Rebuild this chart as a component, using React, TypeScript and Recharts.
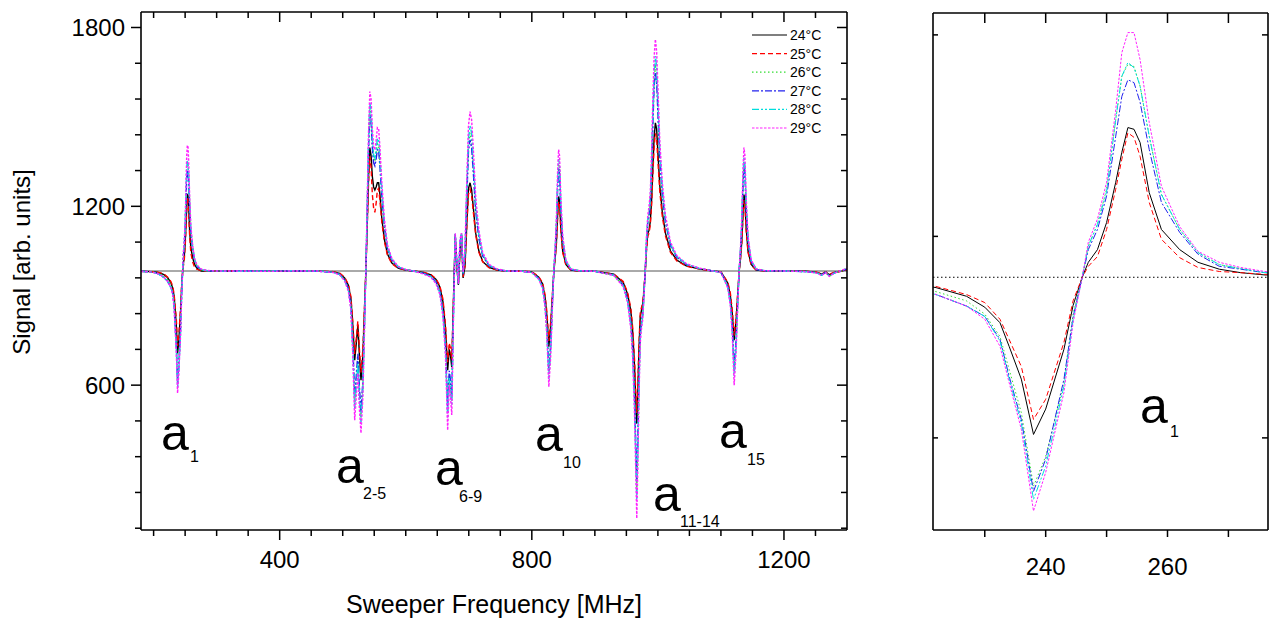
import React from 'react';
import { LineChart, Line, XAxis, YAxis, ReferenceLine } from 'recharts';

const FONT = '"Liberation Sans", Arial, Helvetica, sans-serif';

// sweeper frequency [MHz], dense around every resonance
const freq = [
  180, 195, 205, 212, 217, 222, 227, 230, 232.5, 234, 236, 238, 240, 243, 244.5, 246, 247, 248.5, 250, 251.5, 252.5, 253.5, 254.5, 255.5, 257, 259, 262, 265, 268.5, 272, 276, 285,
  300, 340, 380, 420, 460, 485,
  495, 503, 509, 513, 516, 519, 521.5, 524, 526.5, 529, 532, 535, 537, 539, 541, 543, 545, 547, 549, 551, 553, 555, 557, 559, 562, 566, 571, 578, 588, 600,
  612, 628,
  640, 648, 654, 659, 663, 666.5, 669, 671, 673, 675.5, 678.5, 681, 683.5, 686, 688.5, 691, 694, 697, 699.5, 702, 704.5, 707, 711, 716, 722, 732, 745,
  760, 785,
  800, 811, 817, 821, 824, 827, 830, 833, 835, 837, 839, 841, 842.5, 844, 846, 849, 854, 862, 875,
  900, 930, 945, 952, 957, 960, 963, 965, 966.5, 968, 970, 972, 974, 976, 978, 980, 982, 984, 986, 988, 990, 992, 994, 996, 998, 1000, 1003, 1007, 1012, 1020, 1030, 1045, 1065,
  1085,
  1100, 1105, 1111, 1115, 1118, 1121, 1124, 1127, 1129, 1131, 1133, 1135, 1136.5, 1138, 1140, 1143, 1148, 1156, 1170,
  1200, 1235, 1252, 1260, 1266, 1272, 1280, 1290, 1300,
];

const t24 = [
  982, 981, 979, 975, 970, 961, 946, 927, 900, 859, 802, 706, 750, 854, 930, 979, 1005, 1027, 1074, 1144, 1196, 1239, 1236, 1213, 1126, 1062, 1027, 1005, 993, 987, 983, 983,
  983, 982, 983, 984, 983, 980,
  975, 960, 935, 890, 800, 684, 740, 802, 700, 617, 700, 880, 1000, 1150, 1300, 1397, 1370, 1300, 1265, 1255, 1265, 1279, 1279, 1240, 1160, 1090, 1040, 1010, 993, 986,
  983, 978,
  970, 955, 930, 880, 790, 650, 720, 700, 660, 870, 1100, 1000, 936, 1050, 1104, 960, 1000, 1150, 1260, 1279, 1255, 1200, 1110, 1050, 1015, 995, 986,
  983, 982,
  980, 962, 940, 895, 830, 729, 800, 910, 983, 1025, 1080, 1175, 1233, 1220, 1130, 1050, 1005, 986, 983,
  982, 972, 945, 905, 850, 780, 660, 540, 471, 560, 720, 830, 852, 870, 920, 983, 1060, 1110, 1120, 1150, 1220, 1330, 1430, 1480, 1460, 1380, 1270, 1180, 1110, 1050, 1020, 1000, 990,
  984,
  980, 963, 942, 900, 840, 751, 815, 915, 983, 1025, 1080, 1175, 1239, 1222, 1130, 1050, 1005, 986, 983,
  983, 982, 978, 972, 980, 970, 978, 982, 988,
];

const t25 = [
  982, 981, 980, 976, 972, 963, 949, 935, 906, 871, 824, 732, 767, 866, 938, 979, 998, 1015, 1062, 1132, 1184, 1230, 1222, 1189, 1109, 1045, 1013, 996, 989, 987, 984, 983,
  983, 983, 982, 984, 982, 981,
  976, 962, 938, 897, 813, 705, 757, 815, 720, 643, 720, 887, 999, 1138, 1278, 1368, 1330, 1240, 1195, 1180, 1210, 1255, 1260, 1220, 1148, 1083, 1036, 1008, 992, 986,
  983, 979,
  971, 957, 934, 889, 804, 677, 742, 723, 686, 876, 1085, 1001, 940, 1046, 1096, 963, 1000, 1138, 1240, 1258, 1236, 1186, 1103, 1046, 1014, 994, 986,
  983, 982,
  981, 964, 944, 904, 843, 748, 814, 917, 983, 1022, 1073, 1162, 1216, 1204, 1120, 1045, 1003, 986, 983,
  982, 973, 948, 910, 859, 794, 683, 571, 507, 590, 738, 841, 861, 878, 924, 983, 1055, 1101, 1110, 1138, 1203, 1306, 1399, 1445, 1427, 1352, 1250, 1166, 1101, 1045, 1017, 999, 990,
  984,
  981, 964, 945, 908, 852, 767, 826, 921, 983, 1022, 1073, 1162, 1221, 1205, 1120, 1045, 1003, 986, 983,
  983, 982, 979, 973, 980, 972, 979, 982, 987,
];

const t26 = [
  982, 980, 977, 970, 963, 954, 938, 915, 876, 819, 744, 616, 668, 796, 915, 979, 1033, 1071, 1132, 1253, 1328, 1349, 1345, 1311, 1224, 1123, 1062, 1022, 1001, 994, 987, 984,
  983, 982, 984, 983, 983, 979,
  972, 953, 921, 862, 730, 543, 614, 689, 574, 492, 602, 838, 1007, 1206, 1405, 1529, 1503, 1412, 1360, 1350, 1374, 1409, 1406, 1352, 1244, 1139, 1061, 1021, 997, 987,
  983, 975,
  964, 945, 913, 845, 727, 509, 636, 602, 548, 821, 1107, 1014, 939, 1078, 1108, 974, 1042, 1255, 1407, 1446, 1420, 1340, 1194, 1099, 1036, 1002, 989,
  983, 982,
  979, 957, 930, 870, 781, 634, 730, 889, 988, 1050, 1136, 1276, 1343, 1325, 1200, 1085, 1015, 989, 984,
  982, 969, 935, 884, 808, 717, 548, 372, 248, 385, 608, 767, 809, 835, 906, 988, 1088, 1152, 1176, 1220, 1332, 1491, 1619, 1676, 1642, 1534, 1375, 1250, 1152, 1071, 1030, 1006, 992,
  984,
  979, 957, 930, 876, 791, 645, 741, 894, 988, 1050, 1136, 1278, 1350, 1327, 1201, 1085, 1015, 989, 984,
  983, 981, 977, 969, 979, 966, 977, 983, 991,
];

const t27 = [
  982, 980, 976, 968, 960, 949, 929, 911, 871, 807, 732, 607, 663, 802, 910, 979, 1027, 1062, 1120, 1224, 1293, 1322, 1317, 1283, 1201, 1109, 1057, 1019, 998, 993, 987, 984,
  982, 983, 983, 983, 982, 979,
  972, 954, 923, 866, 740, 563, 632, 705, 592, 510, 616, 844, 1006, 1198, 1390, 1510, 1484, 1396, 1346, 1336, 1358, 1390, 1388, 1336, 1232, 1132, 1058, 1019, 996, 987,
  983, 976,
  965, 946, 915, 850, 736, 529, 648, 616, 564, 828, 1106, 1012, 938, 1074, 1108, 972, 1036, 1240, 1386, 1423, 1396, 1320, 1182, 1092, 1033, 1001, 988,
  983, 982,
  979, 958, 931, 874, 788, 648, 740, 892, 987, 1046, 1128, 1261, 1327, 1310, 1190, 1080, 1014, 988, 984,
  982, 970, 936, 887, 814, 726, 564, 396, 280, 410, 624, 776, 815, 840, 908, 987, 1084, 1146, 1168, 1210, 1316, 1474, 1600, 1648, 1620, 1512, 1360, 1240, 1146, 1068, 1029, 1005, 992,
  984,
  979, 958, 932, 879, 798, 660, 752, 897, 987, 1046, 1128, 1263, 1334, 1312, 1191, 1080, 1014, 988, 984,
  983, 981, 977, 970, 979, 967, 977, 983, 990,
];

const t28 = [
  982, 980, 976, 968, 960, 949, 929, 911, 868, 803, 725, 593, 651, 790, 905, 979, 1033, 1071, 1128, 1253, 1328, 1352, 1343, 1311, 1224, 1123, 1062, 1022, 1001, 994, 987, 984,
  983, 982, 983, 984, 983, 979,
  971, 952, 919, 858, 720, 522, 596, 672, 556, 475, 588, 832, 1008, 1214, 1420, 1547, 1522, 1428, 1373, 1363, 1389, 1427, 1424, 1368, 1256, 1146, 1064, 1022, 997, 988,
  983, 975,
  964, 943, 910, 840, 718, 489, 624, 588, 532, 814, 1108, 1016, 939, 1082, 1109, 976, 1048, 1270, 1428, 1470, 1446, 1360, 1206, 1106, 1039, 1003, 989,
  983, 982,
  978, 956, 928, 867, 774, 621, 720, 886, 989, 1053, 1144, 1291, 1358, 1340, 1210, 1090, 1017, 989, 984,
  982, 969, 933, 881, 802, 708, 532, 348, 216, 360, 592, 758, 802, 830, 904, 989, 1092, 1158, 1184, 1230, 1348, 1514, 1646, 1704, 1668, 1556, 1390, 1260, 1158, 1074, 1032, 1006, 992,
  984,
  978, 957, 928, 872, 784, 630, 731, 891, 989, 1053, 1144, 1293, 1365, 1342, 1212, 1090, 1017, 989, 984,
  983, 981, 977, 969, 978, 966, 976, 984, 991,
];

const t29 = [
  982, 980, 976, 968, 960, 949, 929, 906, 859, 796, 715, 573, 640, 779, 900, 979, 1040, 1080, 1144, 1270, 1369, 1404, 1404, 1357, 1248, 1137, 1067, 1024, 1005, 996, 989, 985,
  983, 983, 982, 983, 983, 978,
  970, 950, 915, 850, 700, 482, 560, 640, 520, 439, 560, 820, 1010, 1230, 1450, 1585, 1560, 1460, 1400, 1390, 1420, 1464, 1460, 1400, 1280, 1160, 1070, 1025, 998, 988,
  983, 973,
  962, 940, 905, 830, 700, 449, 600, 560, 500, 800, 1110, 1020, 940, 1090, 1110, 980, 1060, 1300, 1470, 1518, 1490, 1400, 1230, 1120, 1045, 1005, 990,
  983, 982,
  978, 955, 925, 860, 760, 594, 700, 880, 990, 1060, 1160, 1320, 1390, 1370, 1230, 1100, 1020, 990, 984,
  982, 968, 930, 875, 790, 690, 500, 300, 153, 310, 560, 740, 790, 820, 900, 990, 1100, 1170, 1200, 1250, 1380, 1560, 1700, 1760, 1720, 1600, 1420, 1280, 1170, 1080, 1035, 1008, 993,
  984,
  978, 955, 925, 865, 770, 600, 710, 885, 990, 1060, 1160, 1322, 1397, 1372, 1232, 1100, 1020, 990, 984,
  983, 981, 976, 968, 978, 965, 976, 984, 992,
];

const mainXTicks = [200, 250, 300, 350, 400, 450, 500, 550, 600, 650, 700, 750, 800, 850, 900, 950, 1000, 1050, 1100, 1150, 1200, 1250];
const mainXMajor = [400, 800, 1200];
const mainYTicks = [120, 240, 360, 480, 600, 720, 840, 960, 1080, 1200, 1320, 1440, 1560, 1680, 1800];
const mainYMajor = [600, 1200, 1800];
const insetXTicks = [230, 240, 250, 260, 270];
const insetXLabels = [240, 260];
const insetYTicks = [700, 1050, 1400];

const series = [
  { key: 't24', label: '24°C', color: '#000000', dash: undefined as string | undefined },
  { key: 't25', label: '25°C', color: '#ff0000', dash: '5 3' },
  { key: 't26', label: '26°C', color: '#33dd33', dash: '1.5 2.5' },
  { key: 't27', label: '27°C', color: '#2222ee', dash: '7 2 2 2' },
  { key: 't28', label: '28°C', color: '#00dddd', dash: '7 2 2 2 2 2' },
  { key: 't29', label: '29°C', color: '#ff22ff', dash: '2.5 1.5' },
];

const rows = freq.map((f, i) => ({ f, t24: t24[i], t25: t25[i], t26: t26[i], t27: t27[i], t28: t28[i], t29: t29[i] }));

type TickOpts = {
  dx: number;
  dy: number;
  majors: number[];
  majorLen: number;
  minorLen: number;
  labels?: number[];
  lx?: number;
  ly?: number;
  anchor?: 'start' | 'middle' | 'end';
};

const tickMark = (o: TickOpts) => (props: any) => {
  const { x, y, payload } = props;
  const v = payload.value;
  const len = o.majors.includes(v) ? o.majorLen : o.minorLen;
  const show = o.labels ? o.labels.includes(v) : false;
  return (
    <g>
      <line x1={x} y1={y} x2={x + o.dx * len} y2={y + o.dy * len} stroke="#000" strokeWidth={1.5} />
      {show && (
        <text x={x + (o.lx || 0)} y={y + (o.ly || 0)} textAnchor={o.anchor || 'middle'} fontSize={24} fontFamily={FONT} fill="#000">
          {v}
        </text>
      )}
    </g>
  );
};

const axisLine = { stroke: '#000', strokeWidth: 1.6 };

const Sub = ({ x, y, main, sub, subDx, subDy }: { x: number; y: number; main: string; sub: string; subDx: number; subDy: number }) => (
  <g fontFamily={FONT} fill="#000">
    <text x={x} y={y} fontSize={50}>{main}</text>
    <text x={x + subDx} y={y + subDy} fontSize={16}>{sub}</text>
  </g>
);

const legendRows = [35, 53.6, 72.2, 90.8, 109.4, 128];

export default function App() {
  return (
    <div style={{ position: 'fixed', left: 0, top: 0, width: 1274, height: 619, background: '#fff', fontFamily: FONT }}>
      <div style={{ position: 'absolute', left: 0, top: 0 }}>
        <LineChart width={860} height={619} data={rows} margin={{ top: 11, right: 12, bottom: 0, left: 0 }}>
          <XAxis
            xAxisId="b" dataKey="f" type="number" domain={[180, 1300]} allowDataOverflow ticks={mainXTicks} interval={0}
            height={89} tickLine={false} tickSize={0} tickMargin={0} axisLine={axisLine}
            tick={tickMark({ dx: 0, dy: 1, majors: mainXMajor, majorLen: 10, minorLen: 6, labels: mainXMajor, ly: 38 })}
          />
          <XAxis
            xAxisId="t" orientation="top" dataKey="f" type="number" domain={[180, 1300]} allowDataOverflow ticks={mainXTicks} interval={0}
            height={1} tickLine={false} tickSize={0} tickMargin={0} axisLine={axisLine}
            tick={tickMark({ dx: 0, dy: 1, majors: mainXMajor, majorLen: 10, minorLen: 6 })}
          />
          <YAxis
            yAxisId="l" type="number" domain={[114, 1852]} allowDataOverflow ticks={mainYTicks} interval={0}
            width={141} tickLine={false} tickSize={0} tickMargin={0} axisLine={axisLine}
            tick={tickMark({ dx: -1, dy: 0, majors: mainYMajor, majorLen: 10, minorLen: 6, labels: mainYMajor, lx: -16, ly: 8.5, anchor: 'end' })}
          />
          <YAxis
            yAxisId="r" orientation="right" type="number" domain={[114, 1852]} allowDataOverflow ticks={mainYTicks} interval={0}
            width={1} tickLine={false} tickSize={0} tickMargin={0} axisLine={axisLine}
            tick={tickMark({ dx: -1, dy: 0, majors: mainYMajor, majorLen: 10, minorLen: 6 })}
          />
          <ReferenceLine xAxisId="b" yAxisId="l" y={983} stroke="#555" strokeWidth={1} />
          {series.map((s) => (
            <Line
              key={s.key} xAxisId="b" yAxisId="l" dataKey={s.key} type="linear" stroke={s.color}
              strokeDasharray={s.dash} strokeWidth={1.4} dot={false} isAnimationActive={false}
            />
          ))}
          <Line xAxisId="t" yAxisId="r" dataKey="t24" stroke="none" strokeWidth={0} dot={false} legendType="none" isAnimationActive={false} />
        </LineChart>
      </div>

      <div style={{ position: 'absolute', left: 860, top: 0 }}>
        <LineChart width={414} height={619} data={rows} margin={{ top: 12, right: 5, bottom: 0, left: 72 }}>
          <XAxis
            xAxisId="b" dataKey="f" type="number" domain={[221.5, 276.5]} allowDataOverflow ticks={insetXTicks} interval={0}
            height={89} tickLine={false} tickSize={0} tickMargin={0} axisLine={axisLine}
            tick={tickMark({ dx: 0, dy: 1, majors: insetXTicks, majorLen: 7, minorLen: 7, labels: insetXLabels, ly: 45 })}
          />
          <XAxis
            xAxisId="t" orientation="top" dataKey="f" type="number" domain={[221.5, 276.5]} allowDataOverflow ticks={insetXTicks} interval={0}
            height={1} tickLine={false} tickSize={0} tickMargin={0} axisLine={axisLine}
            tick={tickMark({ dx: 0, dy: 1, majors: insetXTicks, majorLen: 10, minorLen: 10 })}
          />
          <YAxis
            yAxisId="l" type="number" domain={[540, 1438]} allowDataOverflow ticks={insetYTicks} interval={0}
            width={1} tickLine={false} tickSize={0} tickMargin={0} axisLine={axisLine}
            tick={tickMark({ dx: 1, dy: 0, majors: insetYTicks, majorLen: 5, minorLen: 5 })}
          />
          <YAxis
            yAxisId="r" orientation="right" type="number" domain={[540, 1438]} allowDataOverflow ticks={insetYTicks} interval={0}
            width={1} tickLine={false} tickSize={0} tickMargin={0} axisLine={axisLine}
            tick={tickMark({ dx: -1, dy: 0, majors: insetYTicks, majorLen: 6, minorLen: 6 })}
          />
          <ReferenceLine xAxisId="b" yAxisId="l" y={979} stroke="#000" strokeWidth={1} strokeDasharray="1.5 2.5" />
          {series.map((s) => (
            <Line
              key={s.key} xAxisId="b" yAxisId="l" dataKey={s.key} type="linear" stroke={s.color}
              strokeDasharray={s.dash} strokeWidth={1} dot={false} isAnimationActive={false}
            />
          ))}
          <Line xAxisId="t" yAxisId="r" dataKey="t24" stroke="none" strokeWidth={0} dot={false} legendType="none" isAnimationActive={false} />
        </LineChart>
      </div>

      <svg width={1274} height={619} style={{ position: 'absolute', left: 0, top: 0, pointerEvents: 'none' }}>
        <text x={30} y={262} transform="rotate(-90 30 262)" textAnchor="middle" fontSize={24} fontFamily={FONT} fill="#000">
          Signal [arb. units]
        </text>
        <text x={494} y={613} textAnchor="middle" fontSize={25} fontFamily={FONT} fill="#000">
          Sweeper Frequency [MHz]
        </text>

        {series.map((s, i) => (
          <g key={s.key}>
            <line x1={752} x2={787} y1={legendRows[i]} y2={legendRows[i]} stroke={s.color} strokeWidth={1.2} strokeDasharray={s.dash} />
            <text x={790} y={legendRows[i] + 5} fontSize={14} fontFamily={FONT} fill="#000">{s.label}</text>
          </g>
        ))}

        <Sub x={161} y={450} main="a" sub="1" subDx={29} subDy={12} />
        <Sub x={336} y={483} main="a" sub="2-5" subDx={27} subDy={16} />
        <Sub x={435} y={485} main="a" sub="6-9" subDx={24} subDy={17} />
        <Sub x={535} y={451} main="a" sub="10" subDx={28} subDy={17} />
        <Sub x={653} y={511} main="a" sub="11-14" subDx={27} subDy={16} />
        <Sub x={719} y={448} main="a" sub="15" subDx={28} subDy={17} />
        <Sub x={1140} y={423} main="a" sub="1" subDx={30} subDy={14} />
      </svg>
    </div>
  );
}
